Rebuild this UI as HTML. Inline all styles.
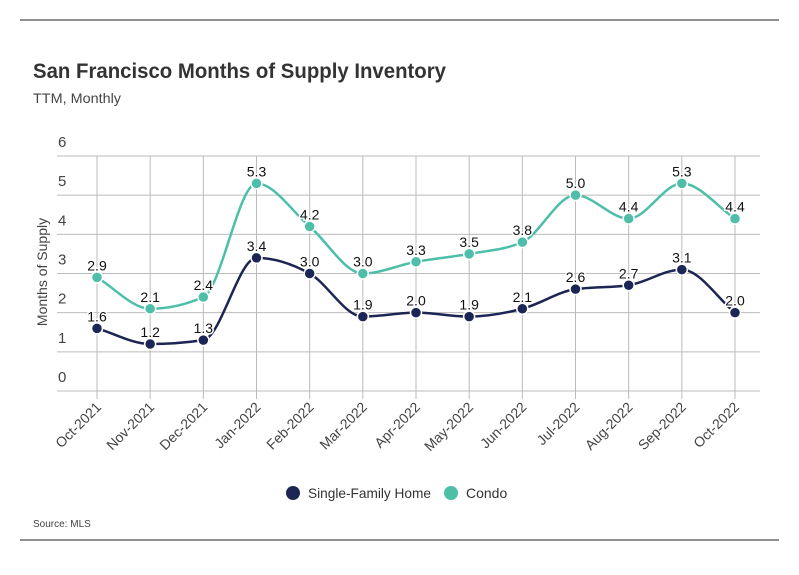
<!DOCTYPE html>
<html><head><meta charset="utf-8"><style>
body{margin:0;background:#fff;font-family:"Liberation Sans",sans-serif}
svg{display:block}
</style></head><body>
<svg width="799" height="575" id="c">
<line x1="20" y1="20" x2="779" y2="20" stroke="#222" stroke-width="1"/>
<line x1="20" y1="540" x2="779" y2="540" stroke="#222" stroke-width="1"/>
<text x="33" y="78" font-size="21" font-weight="bold" fill="#333" textLength="413" lengthAdjust="spacingAndGlyphs">San Francisco Months of Supply Inventory</text>
<text x="33" y="103" font-size="14" fill="#444" textLength="88" lengthAdjust="spacingAndGlyphs">TTM, Monthly</text>
<text transform="translate(47,272) rotate(-90)" text-anchor="middle" font-size="14" fill="#444">Months of Supply</text>
<g id="grid"></g><g id="lines"></g><g id="pts"></g>
<g>
<circle cx="293" cy="493" r="7" fill="#1c2654"/>
<text x="308" y="498" font-size="14" fill="#333" textLength="123" lengthAdjust="spacingAndGlyphs">Single-Family Home</text>
<circle cx="451" cy="493" r="7" fill="#4dbfa8"/>
<text x="466" y="498" font-size="14" fill="#333">Condo</text>
</g>
<text x="33" y="527" font-size="10" fill="#444">Source:  MLS</text>
</svg>
<script>
const categories=["Oct-2021","Nov-2021","Dec-2021","Jan-2022","Feb-2022","Mar-2022","Apr-2022","May-2022","Jun-2022","Jul-2022","Aug-2022","Sep-2022","Oct-2022"];
const sfhValues=[1.6,1.2,1.3,3.4,3.0,1.9,2.0,1.9,2.1,2.6,2.7,3.1,2.0];
const condoValues=[2.9,2.1,2.4,5.3,4.2,3.0,3.3,3.5,3.8,5.0,4.4,5.3,4.4];
const yTicks=[0,1,2,3,4,5,6];
const NS="http://www.w3.org/2000/svg";
const X0=97,XS=(735-97)/12,Y0=391,YS=(391-156)/6;
const x=i=>X0+i*XS, y=v=>Y0-v*YS;
function mk(t,a,p){const e=document.createElementNS(NS,t);for(const k in a)e.setAttribute(k,a[k]);p.appendChild(e);return e;}
const g=document.getElementById('grid');
yTicks.forEach(t=>{
 const l=mk('line',{x1:57,x2:760,y1:y(t),y2:y(t),stroke:'#bbb','stroke-width':1},g);
 
 
 const tx=mk('text',{x:58,y:y(t)-9,'font-size':15,fill:'#444'},g);tx.textContent=t;
 
 
});
categories.forEach((c,i)=>{
 const l=mk('line',{x1:x(i),x2:x(i),y1:156,y2:399,stroke:'#bbb','stroke-width':1},g);
 
 
 const tx=mk('text',{transform:`translate(${x(i)+5},${408}) rotate(-45)`,'text-anchor':'end','font-size':14,fill:'#444'},g);tx.textContent=c;
 
 
});
function monotone(pts){
 const n=pts.length,d=[],m=[];
 for(let i=0;i<n-1;i++)d.push((pts[i+1][1]-pts[i][1])/(pts[i+1][0]-pts[i][0]));
 for(let i=0;i<n;i++){
  if(i==0)m.push(d[0]);else if(i==n-1)m.push(d[n-2]);
  else{const s0=d[i-1],s1=d[i],p=(s0+s1)/2;
   m.push((Math.sign(s0)+Math.sign(s1))*Math.min(Math.abs(s0),Math.abs(s1),0.5*Math.abs(p)));}
 }
 let s=`M${pts[0][0]},${pts[0][1]}`;
 for(let i=0;i<n-1;i++){const h=(pts[i+1][0]-pts[i][0])/3;
  s+=`C${pts[i][0]+h},${pts[i][1]+m[i]*h} ${pts[i+1][0]-h},${pts[i+1][1]-m[i+1]*h} ${pts[i+1][0]},${pts[i+1][1]}`;}
 return s;
}
const L=document.getElementById('lines'),P=document.getElementById('pts');
[[condoValues,'#4dbfa8','condo'],[sfhValues,'#1c2654','sfh']].forEach(([vals,col,nm])=>{
 const pts=vals.map((v,i)=>[x(i),y(v)]);
 const p=mk('path',{d:monotone(pts),fill:'none',stroke:col,'stroke-width':2.5},L);
 
 
 vals.forEach((v,i)=>{
  const c=mk('circle',{cx:x(i),cy:y(v),r:5.5,fill:col,stroke:'#fff','stroke-width':1.5},P);
  
  
  const t=mk('text',{x:x(i),y:y(v)-7,'text-anchor':'middle','font-size':14,fill:'#111',stroke:'#fff','stroke-width':3,'paint-order':'stroke'},P);
  t.textContent=v.toFixed(1);
  
  
 });
});
</script>
</body></html>
